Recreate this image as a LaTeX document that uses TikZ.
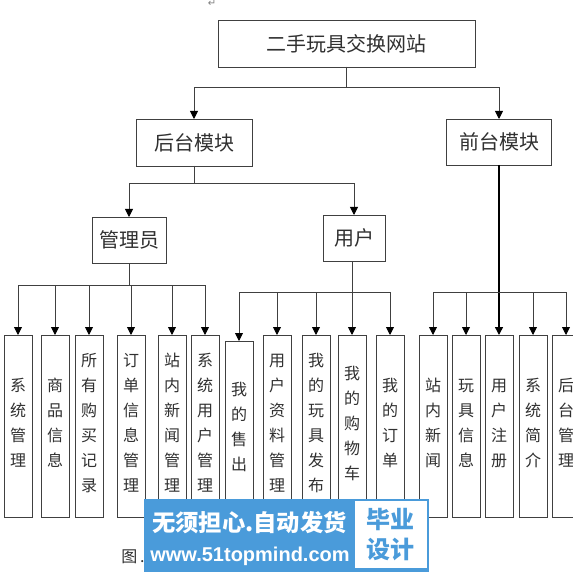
\documentclass[tikz,border=0pt]{standalone}
\usepackage{fontspec}
\usepackage{xcolor}
\setmainfont{Noto Sans CJK SC}
\newfontfamily\markfont{DejaVu Sans}
\newfontfamily\urlfont{Liberation Sans}
\usetikzlibrary{positioning,calc,arrows.meta}
\definecolor{ChartGray}{HTML}{404040}
\definecolor{ChartText}{HTML}{303030}
\definecolor{StampBlue}{HTML}{4A9BDA}

\begin{document}
\begin{tikzpicture}[
    box/.style={draw=ChartGray, line width=0.9pt, fill=white, inner sep=0pt, outer sep=0pt,
      minimum height=46pt, align=center, text=ChartText, font=\fontsize{20}{24}\selectfont},
    leaf/.style={box, minimum width=28pt, minimum height=182pt, text depth=7pt, font=\fontsize{16}{25}\selectfont},
    arrow/.style={-{Triangle[length=8pt,width=8pt,color=black]}, line width=0.9pt, draw=ChartGray},
    stamptext/.style={inner sep=0pt, font=\bfseries}
  ]
    \clip (0,0) rectangle (573pt,-572pt);
    % upper levels
    \node[box, minimum width=257pt, minimum height=47pt] (site) at (346.5pt,-43.5pt) {二手玩具交换网站};
    \node[box, minimum width=116pt, minimum height=47pt, below=52pt of site, xshift=-152.5pt] (back) {后台模块};
    \node[box, minimum width=105pt, below=52pt of site, xshift=152.5pt] (front) {前台模块};
    \node[box, minimum width=74pt, below=51pt of back, xshift=-65pt] (admin) {管理员};
    \node[box, minimum width=62pt, below=49pt of back, xshift=160pt] (user) {用户};
    % bottom row
    \node[leaf, below=72pt of admin, xshift=-111pt] (sysmgr) {系\\统\\管\\理};
    \node[leaf, right=9pt of sysmgr] (goods) {商\\品\\信\\息};
    \node[leaf, right=6pt of goods] (buylog) {所\\有\\购\\买\\记\\录};
    \node[leaf, right=14pt of buylog] (orders) {订\\单\\信\\息\\管\\理};
    \node[leaf, right=13pt of orders] (newsmgr) {站\\内\\新\\闻\\管\\理};
    \node[leaf, right=5pt of newsmgr] (usermgr) {系\\统\\用\\户\\管\\理};
    \node[leaf, minimum height=178pt, right=6pt of usermgr, yshift=-4pt] (sale) {我\\的\\售\\出};
    \node[leaf, right=10pt of sale, yshift=4pt] (profile) {用\\户\\资\\料\\管\\理};
    \node[leaf, right=11pt of profile] (toys) {我\\的\\玩\\具\\发\\布};
    \node[leaf, right=8pt of toys] (cart) {我\\的\\购\\物\\车};
    \node[leaf, right=10pt of cart] (myorder) {我\\的\\订\\单};
    \node[leaf, right=15pt of myorder] (news) {站\\内\\新\\闻};
    \node[leaf, right=5pt of news] (toyinfo) {玩\\具\\信\\息};
    \node[leaf, right=5pt of toyinfo] (signup) {用\\户\\注\\册};
    \node[leaf, right=6pt of signup] (about) {系\\统\\简\\介};
    \node[leaf, right=5pt of about] (backlink) {后\\台\\管\\理};
    % bus lines
    \coordinate[below=20pt of site] (sitebus);
    \coordinate[below=17pt of back] (backbus);
    \coordinate[below=22pt of admin] (adminbus);
    \coordinate (userbus) at (user.south -| cart.north);
    \coordinate (userbus) at ($(userbus)+(0,-31pt)$);
    \coordinate (frontbus) at ($(front.south)+(0,-127pt)$);
    \draw[arrow] (site.south) -- (sitebus) -| (back.north);
    \draw[arrow] (site.south) -- (sitebus) -| (front.north);
    \draw[arrow] (back.south) -- (backbus) -| (admin.north);
    \draw[arrow] (back.south) -- (backbus) -| (user.north);
    \draw[arrow] (admin.south) -- (adminbus) -| (sysmgr.north);
    \draw[arrow] (adminbus) -| (goods.north);
    \draw[arrow] (adminbus) -| (buylog.north);
    \draw[arrow] (adminbus) -| (orders.north);
    \draw[arrow] (adminbus) -| (newsmgr.north);
    \draw[arrow] (adminbus) -| (usermgr.north);
    \draw[arrow] (user.south -| cart.north) -- (cart.north);
    \draw[arrow] (userbus) -| (sale.north);
    \draw[arrow] (userbus) -| (profile.north);
    \draw[arrow] (userbus) -| (toys.north);
    \draw[arrow] (userbus) -| (myorder.north);
    \draw[arrow, line width=1.5pt, draw=black] (front.south) -- (signup.north);
    \draw[arrow] (frontbus) -| (news.north);
    \draw[arrow] (frontbus) -| (toyinfo.north);
    \draw[arrow] (frontbus) -| (about.north);
    \draw[arrow] (frontbus) -| (backlink.north);
    % small marks of the page
    \node[inner sep=0pt, text=gray, font=\markfont\fontsize{10}{10}\selectfont] (pilcrow) at (212pt,-3pt) {↵};
    \node[inner sep=0pt, text=ChartText, font=\fontsize{16}{16}\selectfont] (caption) at (133pt,-557pt) {图\,.};
    % stamp over the bottom
    \node[fill=StampBlue, minimum width=285pt, minimum height=73pt, inner sep=0pt] (stamp) at (286.5pt,-535.5pt) {};
    \node[fill=white, minimum width=72pt, minimum height=67pt, inner sep=0pt] (stampbox) at (391pt,-534.5pt) {};
    \node[stamptext, text=white, font=\bfseries\fontsize{23.3}{24}\selectfont] (slogan) at (249.5pt,-523pt) {无须担心.自动发货};
    \node[stamptext, text=white, font=\urlfont\bfseries\fontsize{20}{24}\selectfont] (url) at (250pt,-556.5pt) {www.51topmind.com};
    \node[stamptext, text=StampBlue, align=center, font=\bfseries\fontsize{24}{30}\selectfont] (grad) at (390pt,-535pt) {毕业\\设计};
  \end{tikzpicture}
\end{document}
